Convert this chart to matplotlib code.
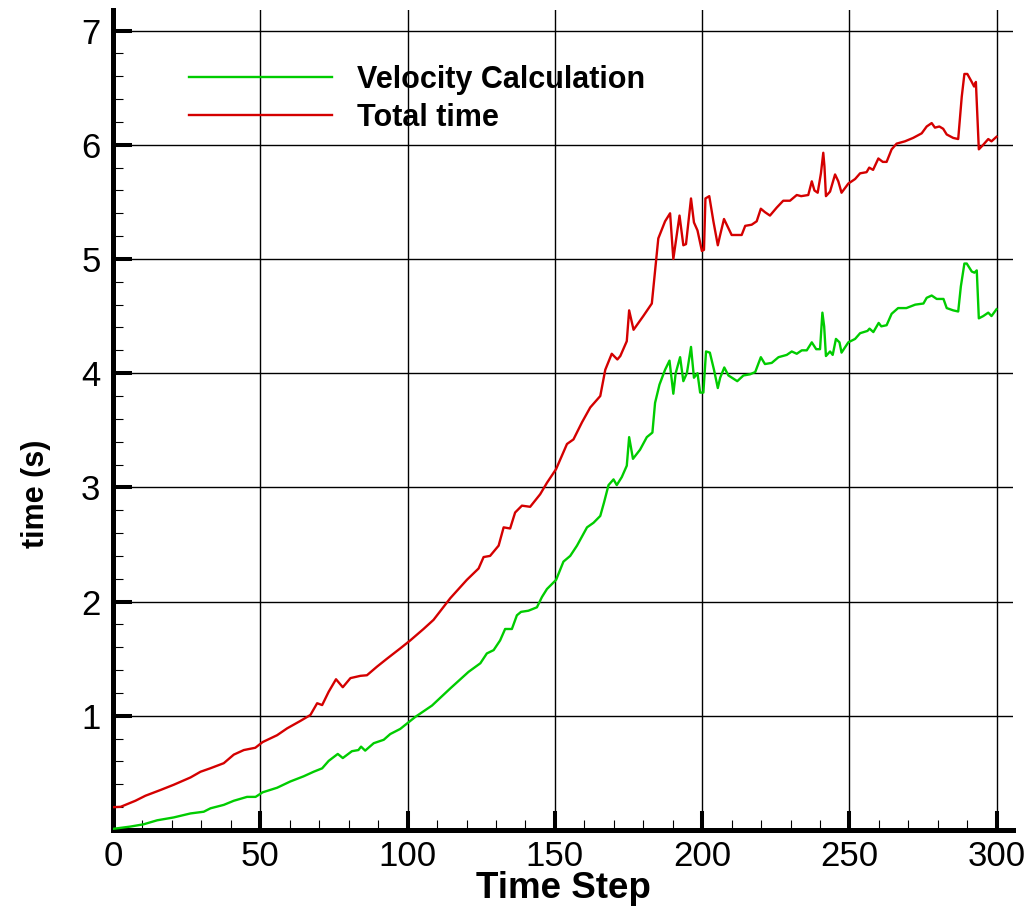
import numpy as np
import matplotlib
matplotlib.use("Agg")
import matplotlib.pyplot as plt
from matplotlib.ticker import MultipleLocator

plt.rcParams['font.family'] = ['Liberation Sans', 'DejaVu Sans']

# total time per step (red)
t_total = [0, 2.6, 7.6, 11, 16.1, 20.6, 26.3, 29.7, 33, 37.6, 41, 44.4, 48.3, 50.8, 55.7,
           59.1, 63.6, 67, 69.3, 71, 73.2, 75.7, 78, 80.6, 84, 86.2, 89.6, 93, 97.5,
           100.9, 105.4, 108.8, 114.5, 120.1, 124.1, 125.8, 128, 130.9, 132.6, 134.8,
           136.5, 138.8, 141.6, 145, 147.3, 150.4, 154.1, 156.3, 159.2, 162, 165.4,
           167.1, 169.3, 171.2, 172.2, 174.4, 175.2, 176.7, 180, 182.9, 184.4, 185.1,
           187.4, 189.1, 190.2, 192.3, 193.6, 194.5, 196.2, 197.2, 198.4, 199.9, 200.6,
           201.1, 202.4, 203.8, 205.3, 206, 207.4, 208.9, 210, 211.7, 213.4, 214.6,
           216.8, 218.5, 219.9, 221.3, 223, 225.3, 227.5, 229.8, 232.1, 233.6, 236,
           237.2, 238.1, 239.2, 240.3, 241.1, 241.5, 242, 243.4, 245.1, 246.2, 247.3,
           249.6, 251.9, 253.6, 255.8, 256.7, 258, 259.8, 261.3, 262.6, 264.3, 266,
           268.8, 271.6, 274.5, 276.2, 277.9, 279, 280.5, 281.8, 283, 285.2, 286.9,
           288.1, 289, 290, 291.5, 292.3, 292.9, 293.9, 295.4, 297.1, 298.2, 299.9]
v_total = [0.2, 0.203, 0.256, 0.30, 0.35, 0.396, 0.46, 0.51, 0.54, 0.585, 0.66, 0.70, 0.72,
           0.77, 0.83, 0.89, 0.955, 1.007, 1.11, 1.094, 1.21, 1.32, 1.25, 1.33, 1.35, 1.355,
           1.43, 1.50, 1.59, 1.66, 1.76, 1.84, 2.03, 2.19, 2.29, 2.39, 2.40, 2.49, 2.65,
           2.64, 2.78, 2.84, 2.83, 2.94, 3.04, 3.16, 3.38, 3.42, 3.57, 3.70, 3.80, 4.03,
           4.17, 4.12, 4.15, 4.28, 4.55, 4.38, 4.50, 4.61, 5.00, 5.18, 5.33, 5.40, 5.00,
           5.38, 5.12, 5.13, 5.53, 5.32, 5.25, 5.07, 5.08, 5.53, 5.55, 5.33, 5.12, 5.20,
           5.35, 5.27, 5.21, 5.21, 5.21, 5.29, 5.30, 5.33, 5.44, 5.41, 5.38, 5.45, 5.51,
           5.51, 5.56, 5.55, 5.56, 5.68, 5.60, 5.58, 5.75, 5.93, 5.81, 5.55, 5.59, 5.74,
           5.68, 5.58, 5.66, 5.70, 5.75, 5.76, 5.80, 5.78, 5.88, 5.85, 5.85, 5.96, 6.01,
           6.03, 6.06, 6.10, 6.16, 6.19, 6.15, 6.16, 6.14, 6.09, 6.06, 6.05, 6.42, 6.62,
           6.62, 6.55, 6.51, 6.55, 5.96, 6.00, 6.05, 6.03, 6.07]

# velocity calculation time per step (green)
t_vel = [0, 5.9, 10.4, 15, 20.6, 26.3, 30.8, 33.1, 37.6, 41, 45.5, 48.4, 50.8, 55.7, 60.2,
         64.7, 68.1, 71, 73.2, 76.3, 78, 81.1, 83.3, 84.2, 85.6, 88.5, 91.9, 94.1, 97.5,
         100.9, 102.6, 108.3, 114.5, 120.7, 124.7, 126.9, 129.2, 131.4, 133.1, 135.4,
         137.1, 138.5, 141, 143.9, 145.6, 147.3, 150.4, 152.9, 155.2, 157.5, 160.9,
         163.1, 165.4, 166.7, 168.2, 169.9, 171, 172.7, 174.4, 175.2, 176.5, 178.9,
         181.2, 183.1, 184, 185.5, 187.4, 188.9, 190.2, 191, 192.5, 193.6, 194.8, 196.2,
         197.2, 198.4, 199.3, 200.4, 201.3, 202.6, 204, 205.3, 206.1, 207.5, 208.9,
         211.9, 214, 216.2, 218, 219.9, 221.3, 223.6, 225.9, 228.7, 230.4, 232.1, 233.8,
         235.5, 237.2, 238.7, 240, 240.8, 241.4, 242, 243.4, 244.3, 245.4, 246.6, 247.3,
         249.6, 251.9, 253.6, 256.1, 256.8, 258.1, 259.9, 260.8, 262.6, 264.3, 266.5,
         269.3, 272.3, 275.1, 276.2, 277.9, 279.6, 281.9, 283, 285.2, 286.9, 287.8, 289,
         289.8, 291.5, 292.4, 293.2, 293.9, 295.4, 297.1, 298.2, 299.9]
v_vel = [0.01, 0.03, 0.05, 0.085, 0.11, 0.145, 0.16, 0.19, 0.22, 0.256, 0.29, 0.29, 0.33,
         0.37, 0.425, 0.47, 0.51, 0.54, 0.605, 0.666, 0.63, 0.69, 0.70, 0.73, 0.695, 0.76,
         0.79, 0.84, 0.885, 0.955, 0.99, 1.09, 1.24, 1.385, 1.46, 1.546, 1.575, 1.66,
         1.76, 1.76, 1.88, 1.91, 1.92, 1.95, 2.04, 2.11, 2.19, 2.35, 2.40, 2.49, 2.65,
         2.69, 2.75, 2.87, 3.02, 3.07, 3.02, 3.09, 3.19, 3.44, 3.25, 3.33, 3.44, 3.48,
         3.74, 3.90, 4.03, 4.11, 3.82, 4.00, 4.14, 3.93, 4.00, 4.23, 3.96, 4.00, 3.83,
         3.83, 4.19, 4.18, 4.03, 3.87, 3.96, 4.05, 3.98, 3.93, 3.98, 3.99, 4.01, 4.14,
         4.08, 4.09, 4.14, 4.16, 4.19, 4.17, 4.20, 4.20, 4.27, 4.21, 4.21, 4.53, 4.41,
         4.15, 4.19, 4.16, 4.30, 4.27, 4.18, 4.27, 4.30, 4.35, 4.37, 4.39, 4.36, 4.44,
         4.41, 4.42, 4.52, 4.57, 4.57, 4.60, 4.61, 4.66, 4.68, 4.65, 4.65, 4.57, 4.55,
         4.54, 4.76, 4.96, 4.96, 4.89, 4.88, 4.90, 4.48, 4.50, 4.53, 4.50, 4.56]

fig = plt.figure(figsize=(10.30, 9.09), dpi=100)
ax = fig.add_axes([113 / 1030, 79 / 909, 900 / 1030, 820 / 909])

ax.plot(t_vel, v_vel, color='#00cc00', lw=1.7, label='Velocity Calculation', zorder=3)
ax.plot(t_total, v_total, color='#d40000', lw=1.7, label='Total time', zorder=3)

ax.set_xlim(0, 305.5)
ax.set_ylim(0, 7.18)
ax.xaxis.set_major_locator(MultipleLocator(50))
ax.xaxis.set_minor_locator(MultipleLocator(10))
ax.yaxis.set_major_locator(MultipleLocator(1))
ax.yaxis.set_minor_locator(MultipleLocator(0.2))
ax.set_yticks([1, 2, 3, 4, 5, 6, 7])

ax.grid(True, which='major', color='black', lw=1.0)
ax.set_axisbelow(True)

for side in ('top', 'right'):
    ax.spines[side].set_visible(False)
for side in ('left', 'bottom'):
    ax.spines[side].set_linewidth(3.6)

ax.tick_params(which='major', direction='in', length=14, width=2.9, labelsize=25, pad=7)
ax.tick_params(which='minor', direction='in', length=7, width=0.8)
ax.tick_params(axis='y', which='major', pad=9)

ax.set_xlabel('Time Step', fontsize=26.5, fontweight='bold', labelpad=-1)
ax.set_ylabel('time (s)', fontsize=22, fontweight='bold')
ax.yaxis.set_label_coords(-0.069, 0.41)

leg = ax.legend(loc='upper left', bbox_to_anchor=(0.0705, 0.948), frameon=False,
                prop={'size': 22, 'weight': 'bold'}, handlelength=4.7,
                handletextpad=0.8, labelspacing=0.25, borderaxespad=0)

fig.savefig('out.png', dpi=100)
